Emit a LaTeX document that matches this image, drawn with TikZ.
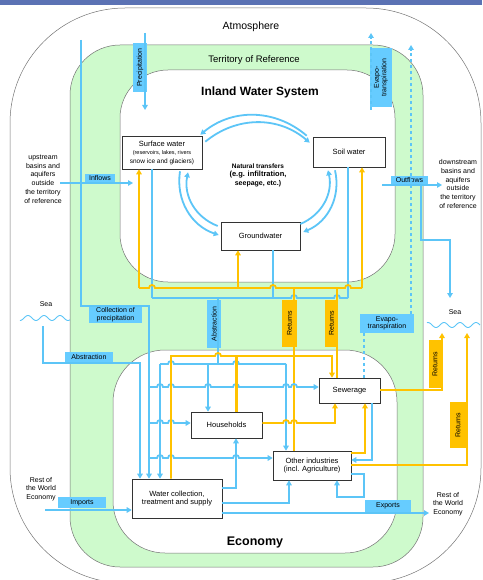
\documentclass[tikz,border=0pt]{standalone}
\usepackage{fontspec}
\setmainfont{Liberation Sans}
\usetikzlibrary{arrows.meta}
\definecolor{flowblue}{RGB}{92,197,247}
\definecolor{labblue}{RGB}{102,204,255}
\definecolor{retgold}{RGB}{255,194,0}
\definecolor{terrgreen}{RGB}{206,250,204}
\definecolor{bandblue}{RGB}{91,114,180}
\newcommand*{\hop}[2]{%
  -- (#1-3,#2) arc[start angle=180, end angle=360, radius=3]%
}
\newcommand*{\flowlab}[6]{%
  \node (#1) [#2, minimum width=#4, minimum height=#5] at (#3) {#6};
}

\begin{document}
\begin{tikzpicture}[x=1pt, y=-1pt,
    region/.style = {draw=black!55, line width=0.5pt},
    unit/.style = {draw=black!80, fill=white, line width=0.6pt, align=center,
                   inner sep=0pt, font=\fontsize{7.5}{8.5}\selectfont},
    bline/.style = {draw=flowblue, line width=1.8pt},
    yline/.style = {draw=retgold, line width=1.8pt},
    bflow/.style = {bline, -{Triangle[length=5pt, width=5.5pt]}},
    yflow/.style = {yline, -{Triangle[length=5pt, width=5.5pt]}},
    bluelab/.style = {fill=labblue, inner sep=0pt, align=center,
                      font=\fontsize{7}{7.5}\selectfont},
    goldlab/.style = {bluelab, fill=retgold},
    side/.style = {align=center, font=\fontsize{7}{8.8}\selectfont}]

\useasboundingbox (0,0) rectangle (482,580);
\clip (0,0) rectangle (482,580);

% regions
\fill[bandblue] (0,0) rectangle (482,5);
\draw[region, rounded corners=115pt] (10,8) rectangle (481,583);
\draw[region, fill=terrgreen, rounded corners=50pt] (70,45) rectangle (423,567);
\draw[region, fill=white, rounded corners=48pt] (120,70) rectangle (395,282);
\draw[region, fill=white, rounded corners=52pt] (113,350) rectangle (397,553);

\node (atmos) at (251,27) {\fontsize{10.5}{12}\selectfont Atmosphere};
\node (territory) at (254,60) {\fontsize{9.5}{11}\selectfont Territory of Reference};
\node (inland) at (260,92) {\fontsize{12}{14}\selectfont\bfseries Inland Water System};
\node (economy) at (255,542) {\fontsize{12.5}{14}\selectfont\bfseries Economy};

\node (upstream) [side] at (43,179) {upstream\\basins and\\aquifers\\outside\\the territory\\of reference};
\node (downstream) [side] at (458,184) {downstream\\basins and\\aquifers\\outside\\the territory\\of reference};
\node (seaL) [side] at (46,304) {Sea};
\node (seaR) [side] at (455,312) {Sea};
\node (worldL) [side] at (41,489) {Rest of\\the World\\Economy};
\node (worldR) [side] at (448,504) {Rest of\\the World\\Economy};
\draw[flowblue, line width=0.9pt, domain=20:70, samples=60] plot (\x, {318+2.5*sin(\x*22.5)});
\draw[flowblue, line width=0.9pt, domain=427:480, samples=60] plot (\x, {325+2.5*sin(\x*22.5)});

% units
\node (surf) [unit, minimum width=80, minimum height=33] at (162,152.5)
  {Surface water\\{\fontsize{5.5}{6}\selectfont (reservoirs, lakes, rivers}\\{\fontsize{6.5}{7}\selectfont snow ice and glaciers)}};
\node (soil) [unit, minimum width=72, minimum height=30] at (349,152) {Soil water};
\node (ground) [unit, minimum width=79, minimum height=28] at (260.5,236) {Groundwater};
\node (house) [unit, minimum width=71, minimum height=26] at (226.5,425) {Households};
\node (sewer) [unit, minimum width=61, minimum height=25] at (349.5,390.5) {Sewerage};
\node (other) [unit, minimum width=78, minimum height=29] at (312,465.5) {Other industries\\(incl. Agriculture)};
\node (supply) [unit, minimum width=90, minimum height=39] at (177,498.5) {Water collection,\\treatment and supply};
\node (natural) [align=center, font=\fontsize{7}{8.5}\selectfont\bfseries] at (258,175)
  {{\fontsize{6.5}{7}\selectfont Natural transfers}\\{\fontsize{7.5}{8}\selectfont (e.g. infiltration,}\\seepage, etc.)};

% flow labels
\flowlab{precLab}{bluelab, rotate=90}{140,67.5}{49}{14}{Precipitation}
\flowlab{evapLab}{bluelab, rotate=90}{381,77.5}{59}{22}{Evapo-\\transpiration}
\flowlab{collLab}{bluelab}{115.5,314.5}{53}{17}{Collection of\\precipitation}
\flowlab{seaAbsLab}{bluelab}{89,357}{48}{10}{Abstraction}
\flowlab{absLab}{bluelab, rotate=90}{214,324}{48}{14}{Abstraction}
\flowlab{retLab}{goldlab, rotate=90}{289.5,323.5}{47}{15}{Returns}
\flowlab{retSewLab}{goldlab, rotate=90}{331.5,323.5}{47}{13}{Returns}
\flowlab{evap2Lab}{bluelab}{387,323.5}{54}{19}{Evapo-\\transpiration}
\flowlab{retSeaLab}{goldlab, rotate=90}{435,364}{48}{12}{Returns}
\flowlab{retOtherLab}{goldlab, rotate=90}{458,425}{46}{16}{Returns}
\flowlab{inLab}{bluelab}{100,178}{30}{8}{Inflows}
\flowlab{outLab}{bluelab}{409.5,180}{37}{8}{Outflows}
\flowlab{impLab}{bluelab}{82,502.5}{48}{11}{Imports}
\flowlab{expLab}{bluelab}{388,506}{46}{12}{Exports}

\coordinate (precTop) at (145,33);
\coordinate (precEnd) at (145,110);
\coordinate (evapTop) at (371,33);
\coordinate (evapBot) at (371,110);
\coordinate (evap2Top) at (411,45);
\coordinate (collTop) at (81,40);
\coordinate (seaLdrop) at (43,326);
\coordinate (inStart) at (60,183);
\coordinate (inEnd) at (133,183);
\coordinate (outStart) at (382,185);
\coordinate (outEnd) at (442,185);
\coordinate (seaRin) at (450,298);
\coordinate (seaRret1) at (442,333);
\coordinate (seaRret2) at (467,333);
\coordinate (impStart) at (45,510);
\coordinate (expEnd) at (429,513);

% atmosphere and outside flows
\draw[bflow] (precTop) -- (precEnd);
\draw[bflow, dashed] (evapBot) -- (evapTop);
\draw[bflow, dashed] (411,0 |- evap2Lab.north) -- (evap2Top);
\draw[bline, dashed] (364,0 |- sewer.north) -- (364,0 |- evap2Lab.south);
\draw[bflow] (collTop) -- (81,306) -- (149,306) -- (149,0 |- supply.north);
\draw[bflow] (seaLdrop) -- (43,363) -- (140,363) -- (140,0 |- supply.north);
\draw[bflow] (inStart) -- (inEnd);
\draw[bflow] (outStart) -- (outEnd);
\draw[bflow] (421,185) -- (421,240) -- (450,240) -- (seaRin);
\draw[bflow] (impStart) -- (supply.west |- 0,510);

% natural transfers
\draw[bflow] ([shift={(-6,-1)}]soil.north west) to[bend right=40] ([shift={(-2,-1)}]surf.north east);
\draw[bflow] ([shift={(3,6)}]surf.north east) to[bend left=40] ([shift={(-3,6)}]soil.north west);
\draw[bflow] ([shift={(18,2)}]surf.south) to[bend right=40] ([shift={(-2,-1)}]ground.west);
\draw[bflow] ([shift={(-3,-10)}]ground.west) to[bend left=40] ([shift={(26,3)}]surf.south);
\draw[bflow] ([shift={(-14,3)}]soil.south) to[bend left=40] ([shift={(3,-4)}]ground.east);
\draw[bflow] ([shift={(0,-12)}]ground.east) to[bend right=40] ([shift={(-21,3)}]soil.south);

% abstraction from the inland water system
\draw[bline] (152,0 |- surf.south) -- (152,298);
\draw[bline] (273,0 |- ground.south) -- (273,298);
\draw[bline] (348,0 |- soil.south) -- (348,298);
\draw[bline] (152,298) \hop{294}{298} \hop{337}{298} -- (348,298);
\draw[bline] (218,298) -- (218,364);

% returns to the inland water system
\draw[yline] (139,288) \hop{152}{288} \hop{273}{288} \hop{348}{288} -- (362,288);
\draw[yflow] (139,288) -- (139,0 |- surf.south);
\draw[yflow] (238,288) -- (238,0 |- ground.south);
\draw[yflow] (362,288) -- (362,0 |- soil.south);
\draw[yline] (294,0 |- other.north) -- (294,288);
\draw[yline] (337,0 |- sewer.north) -- (337,288);

% economy
\draw[bline] (160,364) \hop{171}{364} \hop{236}{364} -- (286,364);
\draw[bflow] (160,364) -- (160,0 |- supply.north);
\draw[bflow] (208,364) -- (208,0 |- house.north);
\draw[bflow] (286,364) -- (286,0 |- other.north);
\draw[bflow] (149,387) \hop{160}{387} \hop{171}{387} \hop{208}{387} \hop{236}{387} \hop{286}{387} \hop{294}{387} -- (sewer.west |- 0,387);
\draw[bflow] (149,423) \hop{160}{423} \hop{171}{423} -- (house.west |- 0,423);
\draw[bflow] (149,458) \hop{160}{458} \hop{171}{458} \hop{236}{458} -- (other.west |- 0,458);
\draw[bflow] (supply.east |- 0,488) -- (236,488) -- (236,0 |- house.south);
\draw[bflow] (supply.east |- 0,503) -- (289,503) -- (289,0 |- other.south);
\draw[bflow] (supply.east |- 0,513) -- (expEnd);
\draw[bflow] (other.east |- 0,474) -- (364,474) -- (364,497) -- (337,497) -- (337,0 |- other.south);
\draw[bflow] (372,0 |- sewer.south) -- (372,460) -- (other.east |- 0,460);

\draw[yflow] (171,0 |- supply.north) -- (171,356) \hop{218}{356} -- (332,356) -- (332,0 |- sewer.north);
\draw[yline, line width=3pt] (236,0 |- house.north) -- (236,356);
\draw[yflow] (house.east |- 0,423) \hop{286}{423} \hop{294}{423} -- (335,423) -- (335,0 |- sewer.south);
\draw[yflow] (other.east |- 0,453) -- (365,453) -- (365,0 |- sewer.south);
\draw[yflow] (sewer.east |- 0,390) -- (442,390) -- (seaRret1);
\draw[yflow] (other.east |- 0,465) -- (467,465) -- (seaRret2);
\end{tikzpicture}
\end{document}
